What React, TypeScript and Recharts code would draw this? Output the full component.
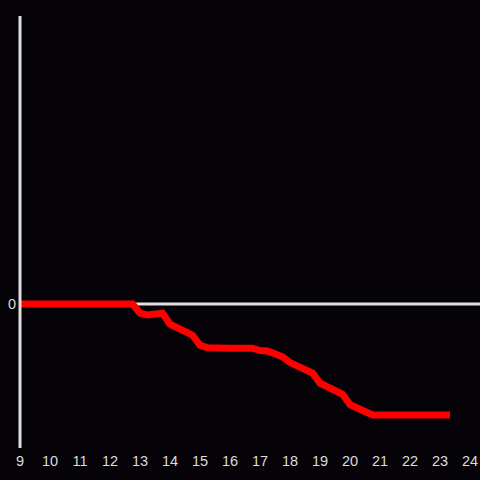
import { LineChart, Line, XAxis, YAxis, ReferenceLine } from "recharts";

// hour of day
const hours = [9, 12.75, 13, 13.25, 13.75, 14, 14.75, 15, 15.25, 16, 16.75, 17, 17.25, 17.75, 18, 18.75, 19, 19.75, 20, 20.75, 23.33];
// series values
const values = [0, 0, -0.19, -0.23, -0.19, -0.42, -0.65, -0.86, -0.91, -0.92, -0.92, -0.97, -0.98, -1.1, -1.22, -1.44, -1.65, -1.88, -2.1, -2.31, -2.31];
const xTicks = [9, 10, 11, 12, 13, 14, 15, 16, 17, 18, 19, 20, 21, 22, 23, 24];
const yTicks = [0];

const data = hours.map((h, i) => ({ h, v: values[i] }));

const tickStyle = { fill: "#dcdcdc", fontSize: 14.5, fontFamily: "Liberation Sans, Arial, sans-serif" };

export default function App() {
    return (
        <div style={{ position: "fixed", left: 0, top: 0, width: 480, height: 480, background: "#050307" }}>
            <LineChart
                width={480}
                height={480}
                data={data}
                margin={{ top: 16, right: 0, left: 0, bottom: 0 }}
                style={{ fontSize: 14.5, fontFamily: "Liberation Sans, Arial, sans-serif" }}
            >
                <XAxis
                    type="number"
                    dataKey="h"
                    domain={[9, 24.33]}
                    ticks={xTicks}
                    axisLine={false}
                    tickLine={false}
                    tickSize={0}
                    tickMargin={8}
                    height={32}
                    fontSize={14.5}
                    tick={tickStyle}
                    allowDataOverflow
                />
                <YAxis
                    domain={[-3, 6]}
                    ticks={yTicks}
                    width={20}
                    tickLine={false}
                    tickSize={0}
                    tickMargin={4}
                    fontSize={14.5}
                    axisLine={{ stroke: "#e0e0e0", strokeWidth: 3 }}
                    tick={tickStyle}
                    allowDataOverflow
                />
                <ReferenceLine y={0} stroke="#e0e0e0" strokeWidth={3} />
                <Line
                    type="linear"
                    dataKey="v"
                    stroke="#ff0000"
                    strokeWidth={7}
                    dot={false}
                    isAnimationActive={false}
                />
            </LineChart>
        </div>
    );
}
